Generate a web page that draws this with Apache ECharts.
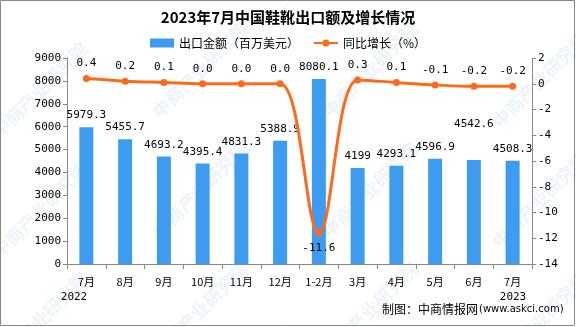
<!DOCTYPE html>
<html><head><meta charset="utf-8">
<script src="https://cdn.jsdelivr.net/npm/echarts@6/dist/echarts.min.js"></script>
<style>html,body{margin:0;padding:0;background:#fff}#c{width:576px;height:327px}</style>
</head><body><div id="c"></div>
<script>
const categories = ['7月','8月','9月','10月','11月','12月','1-2月','3月','4月','5月','6月','7月'];
const exportValues = [5979.3, 5455.7, 4693.2, 4395.4, 4831.3, 5388.9, 8080.1, 4199, 4293.1, 4596.9, 4542.6, 4508.3];
const growthValues = [0.4, 0.2, 0.1, 0.0, 0.0, 0.0, -11.6, 0.3, 0.1, -0.1, -0.2, -0.2];
const growthLabels = ['0.4','0.2','0.1','0.0','0.0','0.0','-11.6','0.3','0.1','-0.1','-0.2','-0.2'];
const leftTicks = [0, 9000, 1000];
const rightTicks = [-14, 2, 2];

const mono = 'DejaVu Sans Mono';
const cjk = 'Noto Sans CJK SC';
const chart = echarts.init(document.getElementById('c'));
const wm = [];
[[40,90],[200,70],[370,70],[540,80],[40,210],[200,190],[370,190],[540,200],[40,320],[200,310],[370,310],[540,320]].forEach(p=>{
  wm.push({type:'text',x:p[0],y:p[1],rotation:Math.PI/4,z:-1,style:{text:'中商产业研究院',fill:'rgba(120,170,220,0.14)',font:'bold 18px "Noto Sans CJK SC"',align:'center',verticalAlign:'middle'}});
});
chart.setOption({
  animation:false,
  title:{text:'2023年7月中国鞋靴出口额及增长情况',left:'center',top:5,textStyle:{fontFamily:cjk,fontSize:15,fontWeight:'bold',color:'#000'}},
  legend:{top:32,left:'center',itemGap:14,textStyle:{fontFamily:cjk,fontSize:12,color:'#000'},
    data:[{name:'出口金额（百万美元）',icon:'rect'},{name:'同比增长（%）'}],itemWidth:24,itemHeight:9},
  grid:{left:67,right:44,top:58,bottom:63},
  xAxis:{type:'category',data:categories,axisLine:{lineStyle:{color:'#888'}},axisTick:{show:true,lineStyle:{color:'#888'},length:5},
    axisLabel:{fontFamily:cjk,fontSize:11,color:'#000',margin:12}},
  yAxis:[
    {type:'value',min:leftTicks[0],max:leftTicks[1],interval:leftTicks[2],splitLine:{show:false},
     axisLine:{show:true,lineStyle:{color:'#888'}},axisTick:{show:true,length:4,lineStyle:{color:'#888'}},
     axisLabel:{fontFamily:mono,fontSize:11,color:'#000',margin:6,formatter:v=>String(v)}},
    {type:'value',min:rightTicks[0],max:rightTicks[1],interval:rightTicks[2],splitLine:{show:false},
     axisLine:{show:true,lineStyle:{color:'#888'}},axisTick:{show:true,length:4,lineStyle:{color:'#888'}},
     axisLabel:{fontFamily:mono,fontSize:11,color:'#000',margin:6,formatter:v=>String(v)}}
  ],
  series:[
    {name:'出口金额（百万美元）',type:'bar',barWidth:14,itemStyle:{color:'#3d9cf0'},
     data:exportValues.map((v,i)=>({value:v,label:i===10?{offset:[0,-24]}:undefined})),
     label:{show:true,position:'top',distance:6,fontFamily:mono,fontSize:11,color:'#000'}},
    {name:'同比增长（%）',type:'line',yAxisIndex:1,smooth:0.35,symbol:'circle',symbolSize:7,
     itemStyle:{color:'#fd6a1e'},lineStyle:{color:'#fd6a1e',width:3},
     data:growthValues.map((v,i)=>({value:v,label:{formatter:growthLabels[i],position:v<-5?'bottom':'top'}})),
     label:{show:true,distance:6,fontFamily:mono,fontSize:11,color:'#000'}}
  ],
  graphic:wm.concat([
    {type:'rect',shape:{x:0.5,y:0.5,width:574,height:325},style:{fill:'none',stroke:'#888',lineWidth:1}},
    {type:'text',x:74,y:297,style:{text:'2022',font:'11px "DejaVu Sans Mono"',fill:'#000',align:'center',verticalAlign:'middle'}},
    {type:'text',x:513,y:297,style:{text:'2023',font:'11px "DejaVu Sans Mono"',fill:'#000',align:'center',verticalAlign:'middle'}},
    {type:'text',x:382,y:309,style:{text:'制图：中商情报网',font:'12px "Noto Sans CJK SC"',fill:'#000',verticalAlign:'middle'}},
    {type:'text',x:479,y:309,style:{text:'(www.askci.com)',font:'10px "DejaVu Sans"',fill:'#000',verticalAlign:'middle'}}
  ])
});
</script></body></html>
